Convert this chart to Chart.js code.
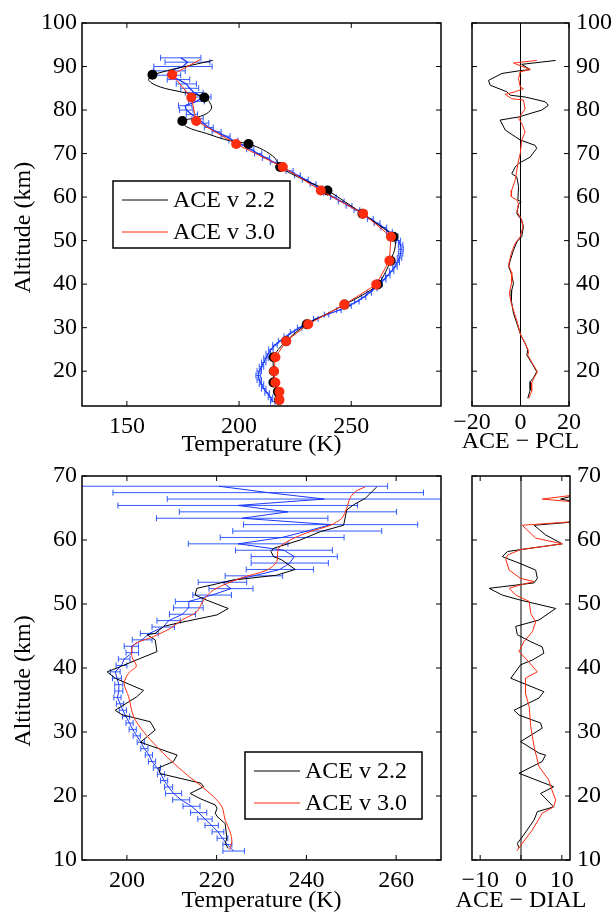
<!DOCTYPE html>
<html>
<head>
<meta charset="utf-8">
<script src="https://cdn.jsdelivr.net/npm/chart.js@4.4.0/dist/chart.umd.min.js"></script>
<style>
html, body { margin: 0; padding: 0; background: #fff; overflow: hidden; }
#wrap { position: relative; width: 612px; height: 912px; }
#wrap canvas { position: absolute; left: 0; top: 0; }
</style>
</head>
<body>
<div id="wrap">
  <canvas id="pclChart" width="612" height="912"></canvas>
  <canvas id="pclDiffChart" width="612" height="912"></canvas>
  <canvas id="dialChart" width="612" height="912"></canvas>
  <canvas id="dialDiffChart" width="612" height="912"></canvas>
</div>
<script>
// ---- tick values ----
var pclTempTicks = [150, 200, 250];
var pclDiffTicks = [-20, 0, 20];
var pclAltTicks = [20, 30, 40, 50, 60, 70, 80, 90, 100];
var dialTempTicks = [200, 220, 240, 260];
var dialDiffTicks = [-10, 0, 10];
var dialAltTicks = [10, 20, 30, 40, 50, 60, 70];

// ---- PCL lidar comparison (top) ----
var pclAlt = [13,14,15,16,17,18,19,20,21,22,23,24,25,26,27,28,29,30,31,32,33,34,35,36,37,38,39,40,
  41,42,43,44,45,46,47,48,49,50,51,52,53,54,55,56,57,58,59,60,61,62,63,64,65,66,67,68,69,70,
  71,72,73,74,75,76,77,78,79,80,81,82,83,84,85,86,87,88,89,90,91,92];
var pclTemp = [215,214,212.5,211,210,209,208.5,209,210,211,212,213,214.2,216,218.5,221,223.8,227,230.5,234.2,
  239,244.5,249,252.5,255.5,258,260.5,262.8,264.5,266.3,268,269.5,270.5,271.5,272,272.2,272,271,269.5,267,
  264.5,261.5,258.5,255.5,252.5,249,245.5,242,239,236,233,229.5,226,222.5,219,215.5,212,208.5,205,201.5,
  197.5,194,190,186.5,184,181.5,179,176.5,176,181,184,180,178,176.5,173,168,169,175,177,174];
var pclErr = [1,1,1,1,1,1,1,1,1,1,1,1,1,1,1,1,1,1,1,1,1,1,1,1,
  1,1,1,1,1,1,1,1,1,1,1,1,1,1,1.3,1.3,1.3,1.3,1.3,1.3,1.3,1.3,1.3,1.3,1.3,1.3,
  1.3,1.3,1.3,1.6,1.6,1.6,1.6,1.6,1.6,1.6,2,2,2,2,2.5,2.5,2.5,3,3,3.5,3.5,4,4,4.5,5,6,7,13,10,9];

// ACE v2.2 profile (line) and its measurement points
var v22LineAlt = [91.4,88.1,86.8,85.3,84.2,82.9,80.7,79.2,78.1,77.5,76.1,74.6,73.1,72.2,70.8,68.9,66.9,64.2,61.5,59,
  56.2,53.5,50.9,48.6,45.4,43,39.9,37.5,35.3,33,30.8,28.8,26.9,25,23.2,21.6,20,17.4,15.3,13.4];
var v22LineTemp = [188.3,161.4,159.8,164.9,173.8,184.5,187.8,185.6,179.7,174.7,176.8,185.6,194.6,204.2,210.9,216.1,218.3,228,239.4,247,
  255,262.5,268.8,269.6,267.5,265.5,261.8,255,247,238.5,230.2,225,221,217.5,215.4,215.2,215.5,215.3,217.3,217.8];
var aceDotAlt = [88.1,82.9,77.5,72.2,66.9,61.5,56.2,50.9,45.4,39.9,35.3,30.8,26.9,23.2,20,17.4,15.3,13.4];
var v22DotTemp = [161.4,184.5,174.7,204.2,218.3,239.4,255,268.8,267.5,261.8,247,230.2,221,215.4,215.5,215.3,217.3,217.8];
var v30DotTemp = [170.2,178.7,180.9,198.7,219.5,236.4,255.3,267.7,267,261.1,246.9,230.8,221,216.2,215.6,216.2,218,218];
var v30TopAlt = 91.6, v30TopTemp = 182.7;

// ACE - PCL differences
var pclDiffV22Alt = [91.4,90.5,89.3,89,88.4,86.8,85.7,84.2,83.4,83,81.9,81.1,80,78.4,77.7,75.4,73.1,71.9,71.2,69.2,
  67.7,66.9,65.4,64.6,62.4,59.3,58.9,58.4,56.2,54.7,53.2,50.9,49.7,47.8,45.5,44,42.5,40.2,38.6,36.3,
  33.3,31,28.3,26.4,24.9,23.7,21.8,19.9,18.4,17.6,15.7,13.8];
var pclDiffV22 = [14.5,0.5,4,-0.8,-7.7,-13.2,-12.5,-5.6,-4.2,1.9,10.2,11.5,8.8,-0.8,-8.4,-6.3,-0.1,6,6.7,4,
  -0.8,-2.2,-3.6,-1.5,-0.8,-1.1,0.3,-0.8,-1.5,0.5,1.2,0.5,-1.5,-2.9,-4.2,-4.9,-3.8,-2.9,-3.6,-3.8,
  -2.9,-1.5,0.1,1.9,3,2.6,4.7,6.7,5.3,4,4,3];
var pclDiffV30Alt = [91.4,90.8,89.3,88.8,87.2,85.3,84.9,84.2,83.6,82.6,82.3,80.3,78.1,76.9,75,73.1,70,67.7,66.2,63.9,
  61.6,60.1,59.3,58.4,56.6,55.1,53.2,50.9,49.4,47.1,44.4,42.8,40.5,37.9,35.6,33.3,31,28.3,26.4,24.5,
  23.7,21.8,19.9,18.4,17.3,15.4,13.7];
var pclDiffV30 = [6.7,-2.9,4,-0.1,-0.8,-0.1,1.2,-2.2,-6.3,-3.6,1.2,1.9,-0.8,0.5,1.9,0.5,-0.1,-1.1,-1.5,-2.2,
  -3.6,-3.8,-1.5,-0.8,-1.5,0.3,1,-0.1,-2.2,-3.8,-4.9,-3.8,-3.6,-4.6,-3.8,-2.5,-1.2,0.1,1.9,3.4,
  3,4.9,7,5.5,4.6,4.6,3.4];

// ---- DIAL lidar comparison (bottom) ----
var dialAlt = [11.4,12.4,13.4,14.4,15.4,16.4,17.4,18.4,19.4,20.4,21.4,22.4,23.4,24.4,25.4,26.4,27.4,28.4,29.4,30.4,
  31.4,32.4,33.4,34.4,35.4,36.4,37.4,38.4,39.4,40.4,41.4,42.4,43.4,44.4,45.4,46.4,47.4,48.4,49.4,50.4,
  51.4,52.4,53.4,54.4,55.4,56.4,57.4,58.4,59.4,60.4,61.4,62.4,63.4,64.4,65.4,66.4,67.4,68.4];
var dialTemp = [223.8,222.4,221.3,220.3,218.9,217.4,216,214.4,212.1,210.4,209.3,208.3,207.6,206.7,205.6,204.9,203.9,203.1,202.2,201.3,
  200.6,199.8,199.1,198.5,197.9,198.2,198.2,197.8,197.4,198.8,199.4,201.2,201,203.4,205,208.1,209.3,212.4,213.7,213.8,
  219,223.2,221.3,228.3,234.1,236.3,237.3,235,224.8,234.6,240.2,245.4,225.7,235.9,224.7,244,231.5,220.5];
var dialErr = [2.4,1,1.2,1.3,1.5,1.6,1.8,1.9,1.9,1.8,0.9,0.8,0.8,0.8,0.8,0.8,0.8,0.8,0.8,0.8,
  0.8,0.8,0.8,0.8,0.8,0.9,0.9,1,1.1,1.2,1.3,1.4,1.6,2.2,2,2.5,2.6,2.9,3.3,3,
  4.3,4.9,5.4,6.4,7.5,8.6,9.6,10.8,11.1,13.8,16.6,19.4,19.1,24.2,26.7,35,34.6,37.6];

var dialV22Alt = [68.3,66.5,65.5,64.7,62.3,61.3,60,58.7,58.2,57.4,56.9,55.4,54.5,53.75,52.45,51.4,50.6,49.3,48.3,47,
  46.5,45.4,45.2,44.4,42.55,41.5,40,39.4,38.4,36.5,35.5,33.4,32.7,31.6,30.3,28.4,26.4,25.4,24.4,23.5,
  22,21.45,20.4,19.6,18.6,18.1,17.3,16.8,15.7,13.4,12.6,11.8];
var dialV22Temp = [255.7,253.1,250.5,249,248.3,243.1,238.6,232.7,232.1,232.7,234.5,237.5,233.4,223.8,215.6,215.2,217.8,222.6,220.1,211.2,
  208.2,206.3,204.5,206.3,206.7,203,197.8,195.6,197.4,203.7,202.2,197.4,198.9,205.2,206.3,203,211.2,210.4,207.1,207.4,
  216.5,217.1,214.1,216.3,219.7,220.1,219.7,220.1,221.9,222.3,221.9,222.6];
var dialV30Alt = [68.3,67.55,66.5,65,63.4,62.3,61.3,60,58.7,56.6,55.3,54,52.2,50.6,48.8,47.5,46.2,44.9,43.6,41.8,
  40.3,39.2,37.6,35.5,32.4,30.05,27.7,25.6,23.3,21.7,19.9,18.3,16.25,14.4,12.9,11.6];
var dialV30Temp = [253.1,250.9,249.7,249,247.9,245.3,240.8,236.4,233.8,233.4,231.2,225.2,219.3,217.1,215.6,212.3,209.7,205.9,201.5,201.1,
  202.1,200.4,199.4,200.4,201.5,203.7,206.7,209.7,213.4,216.3,219.3,221.2,221.9,223,223.4,222.9];

// ACE - DIAL differences
var dialDiffV22Alt = [67.1,66.4,65.9,63.2,62.3,60.8,59.4,58.5,58.2,57.4,56.4,55.3,54,53.3,52.45,51.4,50.6,49.3,47.5,46.5,
  45.2,44.1,43.3,42.3,41.25,40.5,38.4,36.3,35.3,33.4,32.65,31.4,30.6,28.5,26.7,26.4,25.4,23.55,21.45,20.4,
  18.3,17.55,16.25,13.6,12.6,11.9];
var dialDiffV22 = [14,9.7,14,20,3.2,6,10.1,-0.1,-3.3,-4.6,-0.5,3.6,4,3.2,-7.8,-4.6,-0.1,8.5,4.4,-1.3,
  -0.9,2.4,5.2,5.6,2.8,-0.1,-2.5,5.6,4.4,-1.7,-0.5,4.8,5.2,-0.1,4.4,6,5.2,-0.5,8,4.8,
  8,4,3.2,0.3,-0.9,-0.5];
var dialDiffV30Alt = [67.1,66.4,65.9,63.2,62.3,60.3,59.4,58.5,57.65,56.9,55.3,54,53.5,53,52.45,51.4,50.4,48.5,47.2,45.7,
  44.1,42.55,41.25,39.4,38.4,36,34,30.8,27.7,24.6,22.5,20.9,19.4,18.3,17.3,14.7,12.6,11.45];
var dialDiffV30 = [14,5.2,14,20,0.3,3.6,10.1,-0.1,-3.3,-3.7,-2.9,-0.1,3.2,-0.1,-2.9,-1.3,2,2.4,3.6,2.8,
  0.7,-0.5,1.5,4,1.1,1.1,2,2.4,3.2,4.4,6.8,7.6,8.5,8,5.2,2.8,0.3,-1];

// ---- styling ----
var serif = "'Liberation Serif', 'Times New Roman', serif";
var BLACK = '#000000';
var RED = 'rgb(255,45,15)';
var BLUE = 'rgb(25,55,255)';
var BLUE_BAR = 'rgb(50,90,255)';

Chart.defaults.font.family = serif;
Chart.defaults.font.size = 24;
Chart.defaults.color = '#000';
Chart.defaults.animation = false;

function pts(xs, ys) {
  return xs.map(function (x, i) { return { x: x, y: ys[i] }; });
}

function fmt(v) {
  return v < 0 ? '\u2212' + Math.abs(v) : String(v);
}

function lineSet(label, data, color, order, tension, width) {
  return { label: label, data: data, showLine: true, borderColor: color, backgroundColor: color,
    borderWidth: width || 1, pointRadius: 0, tension: tension || 0, order: order };
}

function dotSet(label, data, color, order) {
  return { label: label, data: data, showLine: false, borderColor: color, backgroundColor: color,
    pointRadius: 5, pointBorderWidth: 0, order: order };
}

// box, inward ticks, zero line, error bars, axis titles and legend in the MATLAB look
function matlabPlugin(cfg) {
  return {
    id: 'matlab',
    beforeDatasetsDraw: function (chart) {
      var ctx = chart.ctx, a = chart.chartArea, sx = chart.scales.x, sy = chart.scales.y;
      ctx.save();
      ctx.beginPath();
      ctx.rect(a.left, a.top, a.right - a.left, a.bottom - a.top);
      ctx.clip();
      if (cfg.zeroLine) {
        var zx = sx.getPixelForValue(0);
        ctx.strokeStyle = '#000';
        ctx.lineWidth = 1;
        ctx.beginPath();
        ctx.moveTo(zx, a.top);
        ctx.lineTo(zx, a.bottom);
        ctx.stroke();
      }
      if (cfg.err) {
        var e = cfg.err;
        ctx.strokeStyle = BLUE_BAR;
        ctx.lineWidth = 1;
        ctx.beginPath();
        for (var i = 0; i < e.x.length; i++) {
          var py = sy.getPixelForValue(e.y[i]);
          var x0 = sx.getPixelForValue(e.x[i] - e.e[i]);
          var x1 = sx.getPixelForValue(e.x[i] + e.e[i]);
          ctx.moveTo(x0, py); ctx.lineTo(x1, py);
          ctx.moveTo(x0, py - e.cap); ctx.lineTo(x0, py + e.cap);
          ctx.moveTo(x1, py - e.cap); ctx.lineTo(x1, py + e.cap);
        }
        ctx.stroke();
      }
      ctx.restore();
    },
    afterDraw: function (chart) {
      var ctx = chart.ctx, a = chart.chartArea, sx = chart.scales.x, sy = chart.scales.y;
      var tl = 5;
      ctx.save();
      ctx.strokeStyle = '#000';
      ctx.lineWidth = 1;
      ctx.beginPath();
      sx.ticks.forEach(function (t) {
        var px = sx.getPixelForValue(t.value);
        ctx.moveTo(px, a.bottom); ctx.lineTo(px, a.bottom - tl);
        ctx.moveTo(px, a.top); ctx.lineTo(px, a.top + tl);
      });
      sy.ticks.forEach(function (t) {
        var py = sy.getPixelForValue(t.value);
        ctx.moveTo(a.left, py); ctx.lineTo(a.left + tl, py);
        ctx.moveTo(a.right, py); ctx.lineTo(a.right - tl, py);
      });
      ctx.stroke();
      ctx.lineWidth = 1.5;
      ctx.strokeRect(a.left, a.top, a.right - a.left, a.bottom - a.top);

      ctx.font = '24px ' + serif;
      ctx.fillStyle = '#000';
      ctx.textBaseline = 'middle';
      ctx.textAlign = 'center';
      ctx.fillText(cfg.xTitle, (a.left + a.right) / 2, cfg.xTitleY);
      if (cfg.yTitle) {
        ctx.save();
        ctx.translate(24, (a.top + a.bottom) / 2 + 13);
        ctx.rotate(-Math.PI / 2);
        ctx.fillText(cfg.yTitle, 0, 0);
        ctx.restore();
      }

      if (cfg.legend) {
        var L = cfg.legend;
        var bx = a.left + L.dx, by = a.top + L.dy, bw = 177, bh = 67;
        ctx.fillStyle = '#fff';
        ctx.fillRect(bx, by, bw, bh);
        ctx.lineWidth = 1.5;
        ctx.strokeRect(bx, by, bw, bh);
        ctx.textAlign = 'left';
        L.items.forEach(function (idx, k) {
          var ds = chart.data.datasets[idx];
          var ry = by + 19 + k * 32;
          ctx.strokeStyle = ds.borderColor;
          ctx.lineWidth = 1;
          ctx.beginPath();
          ctx.moveTo(bx + 9, ry); ctx.lineTo(bx + 55, ry);
          ctx.stroke();
          ctx.fillStyle = '#000';
          ctx.fillText(ds.label, bx + 60, ry + 1);
        });
      }
      ctx.restore();
    }
  };
}

function scales(o) {
  return {
    x: {
      type: 'linear', position: 'bottom', min: o.xmin, max: o.xmax,
      grid: { display: false, drawTicks: false }, border: { display: false },
      ticks: { autoSkip: false, maxRotation: 0, padding: o.xpad, callback: fmt },
      afterBuildTicks: function (s) { s.ticks = o.xticks.map(function (v) { return { value: v }; }); },
      afterFit: function (s) { s.height = o.xh; }
    },
    y: {
      type: 'linear', position: o.ypos, min: o.ymin, max: o.ymax,
      grid: { display: false, drawTicks: false }, border: { display: false },
      ticks: { autoSkip: false, padding: o.ypos === 'left' ? 5 : 7 },
      afterBuildTicks: function (s) { s.ticks = o.yticks.map(function (v) { return { value: v }; }); },
      afterFit: function (s) { s.width = o.yw; }
    }
  };
}

function makeChart(id, datasets, sc, pad, plug) {
  return new Chart(document.getElementById(id), {
    type: 'scatter',
    data: { datasets: datasets },
    options: {
      responsive: false,
      events: [],
      layout: { padding: pad },
      plugins: { legend: { display: false }, tooltip: { enabled: false } },
      scales: sc
    },
    plugins: [matlabPlugin(plug)]
  });
}

// top left: temperature vs PCL
makeChart('pclChart', [
  lineSet('PCL', pts(pclTemp, pclAlt), BLUE, 5, 0, 1.3),
  lineSet('ACE v 2.2', pts(v22LineTemp, v22LineAlt), BLACK, 4, 0.35),
  dotSet('ACE v 2.2 points', pts(v22DotTemp, aceDotAlt), BLACK, 3),
  lineSet('ACE v 3.0', pts([v30TopTemp].concat(v30DotTemp), [v30TopAlt].concat(aceDotAlt)), RED, 2),
  dotSet('ACE v 3.0 points', pts(v30DotTemp, aceDotAlt), RED, 1)
], scales({ xmin: 130, xmax: 290, xticks: pclTempTicks, xpad: 6, ymin: 12, ymax: 100, yticks: pclAltTicks, ypos: 'left', yw: 82, xh: 60 }),
  { left: 0, top: 23, right: 171, bottom: 446 },
  { err: { x: pclTemp, y: pclAlt, e: pclErr, cap: 3 }, legend: { dx: 31, dy: 158, items: [1, 3] },
    xTitle: 'Temperature (K)', xTitleY: 445, yTitle: 'Altitude (km)' });

// top right: ACE - PCL
makeChart('pclDiffChart', [
  lineSet('ACE v 2.2', pts(pclDiffV22, pclDiffV22Alt), BLACK, 2),
  lineSet('ACE v 3.0', pts(pclDiffV30, pclDiffV30Alt), RED, 1)
], scales({ xmin: -20, xmax: 20, xticks: pclDiffTicks, xpad: 2, ymin: 12, ymax: 100, yticks: pclAltTicks, ypos: 'right', yw: 43, xh: 60 }),
  { left: 472, top: 23, right: 0, bottom: 446 },
  { zeroLine: true, xTitle: 'ACE \u2212 PCL', xTitleY: 442 });

// bottom left: temperature vs DIAL
makeChart('dialChart', [
  lineSet('DIAL', pts(dialTemp, dialAlt), BLUE, 3),
  lineSet('ACE v 2.2', pts(dialV22Temp, dialV22Alt), BLACK, 2),
  lineSet('ACE v 3.0', pts(dialV30Temp, dialV30Alt), RED, 1, 0.3)
], scales({ xmin: 190, xmax: 270, xticks: dialTempTicks, xpad: 6, ymin: 10, ymax: 70, yticks: dialAltTicks, ypos: 'left', yw: 82, xh: 52 }),
  { left: 0, top: 476, right: 171, bottom: 0 },
  { err: { x: dialTemp, y: dialAlt, e: dialErr, cap: 3 }, legend: { dx: 163, dy: 276, items: [1, 2] },
    xTitle: 'Temperature (K)', xTitleY: 901, yTitle: 'Altitude (km)' });

// bottom right: ACE - DIAL
makeChart('dialDiffChart', [
  lineSet('ACE v 2.2', pts(dialDiffV22, dialDiffV22Alt), BLACK, 2),
  lineSet('ACE v 3.0', pts(dialDiffV30, dialDiffV30Alt), RED, 1)
], scales({ xmin: -12, xmax: 12, xticks: dialDiffTicks, xpad: 6, ymin: 10, ymax: 70, yticks: dialAltTicks, ypos: 'right', yw: 42, xh: 52 }),
  { left: 472, top: 476, right: 0, bottom: 0 },
  { zeroLine: true, xTitle: 'ACE \u2212 DIAL', xTitleY: 901 });
</script>
</body>
</html>
